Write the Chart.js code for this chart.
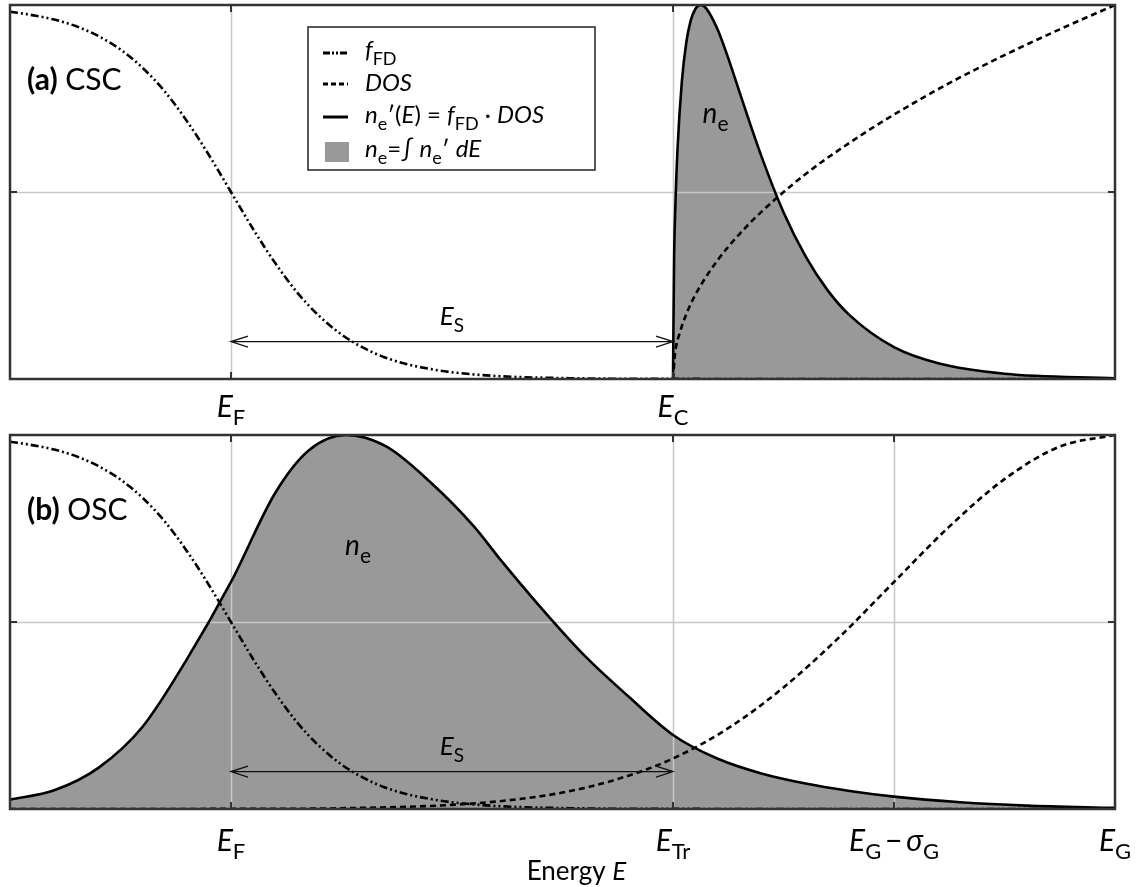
<!DOCTYPE html>
<html>
<head>
<meta charset="utf-8">
<script src="https://cdn.jsdelivr.net/npm/chart.js@4.4.1/dist/chart.umd.min.js"></script>
<style>
  body { margin: 0; background: #fff; }
  canvas { position: absolute; left: 0; }
</style>
</head>
<body>
<canvas id="chart-csc" width="1136" height="430" style="top:0"></canvas>
<canvas id="chart-osc" width="1136" height="457" style="top:430px"></canvas>
<script>
// Fermi-Dirac occupation (same in both panels)
const fdE   = [-1, -0.9, -0.8, -0.7, -0.6, -0.5, -0.4, -0.3, -0.2, -0.1, 0, 0.1, 0.2, 0.3, 0.4, 0.5, 0.6, 0.7, 0.8, 0.9, 1.0, 1.2, 1.5, 2, 3, 4];
const fdVal = [0.982, 0.973, 0.961, 0.943, 0.917, 0.881, 0.832, 0.769, 0.690, 0.599, 0.5, 0.401, 0.310, 0.231, 0.168, 0.119, 0.083, 0.057, 0.039, 0.027, 0.018, 0.008, 0.0025, 0.0003, 0, 0];

// (a) CSC: band-edge DOS and electron density
const dosTopE   = [2, 2.01, 2.03, 2.06, 2.1, 2.2, 2.3, 2.4, 2.6, 2.8, 3.0, 3.25, 3.5, 3.75, 4.0];
const dosTopVal = [0, 0.071, 0.122, 0.173, 0.224, 0.316, 0.387, 0.447, 0.548, 0.632, 0.707, 0.791, 0.866, 0.935, 1.0];
const neTopE    = [2, 2.005, 2.01, 2.02, 2.04, 2.06, 2.08, 2.1, 2.125, 2.15, 2.2, 2.25, 2.3, 2.4, 2.5, 2.6, 2.7, 2.8, 3.0, 3.2, 3.5, 4.0];
const neTopVal  = [0, 0.323, 0.448, 0.609, 0.795, 0.899, 0.958, 0.988, 1.0, 0.991, 0.937, 0.858, 0.769, 0.596, 0.446, 0.328, 0.237, 0.170, 0.085, 0.042, 0.014, 0.002];

// (b) OSC: gaussian DOS and electron density
const dosBotE   = [-1, 0, 0.5, 1, 1.25, 1.5, 1.75, 2, 2.25, 2.5, 2.75, 3, 3.25, 3.5, 3.75, 4];
const dosBotVal = [0, 0.0003, 0.002, 0.011, 0.023, 0.044, 0.080, 0.135, 0.216, 0.325, 0.458, 0.607, 0.755, 0.882, 0.969, 1.0];
const neBotE    = [-1, -0.8, -0.6, -0.4, -0.2, 0, 0.2, 0.35, 0.52, 0.7, 0.9, 1.1, 1.22, 1.4, 1.6, 1.8, 2.0, 2.2, 2.4, 2.6, 2.8, 3.0, 3.3, 3.6, 4.0];
const neBotVal  = [0.025, 0.05, 0.11, 0.22, 0.40, 0.607, 0.845, 0.958, 1.0, 0.97, 0.875, 0.755, 0.666, 0.54, 0.41, 0.30, 0.198, 0.135, 0.095, 0.068, 0.048, 0.033, 0.018, 0.009, 0.003];

// tick positions and labels ([text, style] runs: i italic, s subscript, b bold)
const topTicks  = [0, 2];
const topLabels = [[['E','i'],['F','s']], [['E','i'],['C','s']]];
const botTicks  = [0, 2, 3, 4];
const botLabels = [[['E','i'],['F','s']], [['E','i'],['Tr','s']], [['E','i'],['G','s'],['\u2009\u2212\u2009',''],['\u03c3','i'],['G','s']], [['E','i'],['G','s']]];

const FONT = 'Lato, "Open Sans", sans-serif';
const pts = (xs, ys) => xs.map((x, i) => ({ x: x, y: ys[i] }));

const drawRuns = (ctx, x, y, runs, size, align) => {
    const subSize = Math.round(size * 0.74);
    const fontOf = st => (st.includes('b') ? 'bold ' : '') + (st.includes('i') ? 'italic ' : '') + (st.includes('s') ? subSize : size) + 'px ' + FONT;
    let w = 0;
    const widths = runs.map(([t, st]) => { ctx.font = fontOf(st); const m = ctx.measureText(t).width; w += m; return m; });
    let cx = align === 'center' ? x - w / 2 : x;
    ctx.textAlign = 'left'; ctx.textBaseline = 'alphabetic'; ctx.fillStyle = '#000';
    runs.forEach(([t, st], i) => {
        ctx.font = fontOf(st);
        ctx.fillText(t, cx, y + (st.includes('s') ? size * 0.28 : 0));
        cx += widths[i];
    });
};

const dashLine = (ctx, x1, y1, x2, y2, dash, width) => {
    ctx.save(); ctx.setLineDash(dash); ctx.lineWidth = width; ctx.strokeStyle = '#000';
    ctx.beginPath(); ctx.moveTo(x1, y1); ctx.lineTo(x2, y2); ctx.stroke(); ctx.restore();
};

const FDD = [8, 3, 2, 3, 2, 3];
const DASH = [6, 4];

const panelPlugin = {
    id: 'panel',
    afterDatasetDraw(chart, args, o) {
        if (args.index !== 0) return;   // grid goes over the grey fill, under the curves
        const { ctx, chartArea: a, scales: { x, y } } = chart;
        ctx.save(); ctx.strokeStyle = '#c8c8c8'; ctx.lineWidth = 1.5;
        o.grid.forEach(v => {
            const px = Math.round(x.getPixelForValue(v)) + 0.5;
            ctx.beginPath(); ctx.moveTo(px, a.top); ctx.lineTo(px, a.bottom); ctx.stroke();
        });
        const py = Math.round(y.getPixelForValue(0.5)) + 0.5;
        ctx.beginPath(); ctx.moveTo(a.left, py); ctx.lineTo(a.right, py); ctx.stroke();
        ctx.restore();
    },
    afterDraw(chart, args, o) {
        const { ctx, chartArea: a, scales: { x, y } } = chart;
        ctx.save();
        // frame and inner ticks
        ctx.strokeStyle = '#333'; ctx.lineWidth = 2.5;
        ctx.strokeRect(a.left, a.top, a.right - a.left, a.bottom - a.top);
        ctx.lineWidth = 2;
        o.grid.forEach(v => {
            const px = x.getPixelForValue(v);
            ctx.beginPath(); ctx.moveTo(px, a.top); ctx.lineTo(px, a.top + 7);
            ctx.moveTo(px, a.bottom); ctx.lineTo(px, a.bottom - 7); ctx.stroke();
        });
        const py = y.getPixelForValue(0.5);
        ctx.beginPath(); ctx.moveTo(a.left, py); ctx.lineTo(a.left + 7, py);
        ctx.moveTo(a.right, py); ctx.lineTo(a.right - 7, py); ctx.stroke();

        // tick labels
        o.ticks.forEach((v, i) => drawRuns(ctx, x.getPixelForValue(v), a.bottom + o.tickOffset, o.labels[i], 30, 'center'));
        if (o.title) drawRuns(ctx, (a.left + a.right) / 2 + 14, a.bottom + 71, [['Energy ', ''], ['E', 'i']], 26, 'center');

        // E_S double arrow
        const ay = y.getPixelForValue(0.1), x1 = x.getPixelForValue(0), x2 = x.getPixelForValue(2);
        ctx.strokeStyle = '#111'; ctx.lineWidth = 1.3;
        ctx.beginPath(); ctx.moveTo(x1, ay); ctx.lineTo(x2, ay);
        ctx.moveTo(x1 + 17, ay - 5.5); ctx.lineTo(x1, ay); ctx.lineTo(x1 + 17, ay + 5.5);
        ctx.moveTo(x2 - 17, ay - 5.5); ctx.lineTo(x2, ay); ctx.lineTo(x2 - 17, ay + 5.5);
        ctx.stroke();
        drawRuns(ctx, x.getPixelForValue(1), y.getPixelForValue(0.144), [['E','i'],['S','s']], 26, 'center');

        // n_e inside the filled area
        drawRuns(ctx, x.getPixelForValue(o.neAt[0]), y.getPixelForValue(o.neAt[1]), [['n','i'],['e','s']], 28, 'left');

        // panel tag
        drawRuns(ctx, a.left + 17, a.top + 85, o.tag, 30, 'left');

        // legend box (top panel only)
        if (o.legend) {
            const lx = a.left + 298, ly = a.top + 22, lw = 287, lh = 143;
            ctx.fillStyle = '#fff'; ctx.fillRect(lx, ly, lw, lh);
            ctx.strokeStyle = '#222'; ctx.lineWidth = 1.5; ctx.setLineDash([]);
            ctx.strokeRect(lx, ly, lw, lh);
            const sx = lx + 15, ex = lx + 40, tx = lx + 57;
            dashLine(ctx, sx, ly + 26, ex, ly + 26, [7, 2, 2, 2, 2, 2], 3);
            dashLine(ctx, sx, ly + 57, ex, ly + 57, [5, 3], 3);
            dashLine(ctx, sx, ly + 90, ex, ly + 90, [], 3);
            ctx.fillStyle = '#999'; ctx.fillRect(sx + 2, ly + 115, 24, 20);
            drawRuns(ctx, tx, ly + 31, [['f','i'],['FD','s']], 24, 'left');
            drawRuns(ctx, tx, ly + 64, [['DOS','i']], 24, 'left');
            drawRuns(ctx, tx, ly + 96, [['n','i'],['e','s'],['\u2032(',''],['E','i'],[') = ',''],['f','i'],['FD','s'],[' \u00b7 ',''],['DOS','i']], 24, 'left');
            drawRuns(ctx, tx, ly + 130, [['n','i'],['e','s'],['=\u222b ',''],['n','i'],['e','s'],['\u2032 ',''],['dE','i']], 24, 'left');
        }
        ctx.restore();
    }
};

const makePanel = (id, dosPts, nePts, pad, opts) => {
    new Chart(document.getElementById(id), {
        type: 'line',
        data: {
            datasets: [
                { data: nePts, fill: 'origin', backgroundColor: '#999999', borderWidth: 0, pointRadius: 0, cubicInterpolationMode: 'monotone', order: 10 },
                { data: nePts, fill: false, borderColor: '#000', borderWidth: 2.6, pointRadius: 0, cubicInterpolationMode: 'monotone', order: 3 },
                { data: dosPts, fill: false, borderColor: '#000', borderWidth: 2.6, borderDash: DASH, pointRadius: 0, cubicInterpolationMode: 'monotone', order: 2 },
                { data: pts(fdE, fdVal), fill: false, borderColor: '#000', borderWidth: 2.6, borderDash: FDD, pointRadius: 0, cubicInterpolationMode: 'monotone', order: 1 }
            ]
        },
        options: {
            responsive: false, animation: false, devicePixelRatio: 1,
            layout: { padding: pad },
            scales: {
                x: { type: 'linear', min: -1, max: 4, display: false },
                y: { type: 'linear', min: 0, max: 1, display: false }
            },
            plugins: { legend: { display: false }, tooltip: { enabled: false }, panel: opts }
        },
        plugins: [panelPlugin]
    });
};

makePanel('chart-csc', pts(dosTopE, dosTopVal), pts(neTopE, neTopVal),
    { left: 10, right: 21, top: 5, bottom: 51 },
    { grid: [0, 2], ticks: topTicks, labels: topLabels, tickOffset: 38, title: false,
      neAt: [2.134, 0.684], tag: [['(a)','b'],[' CSC','']], legend: true });

makePanel('chart-osc', pts(dosBotE, dosBotVal), pts(neBotE, neBotVal),
    { left: 10, right: 21, top: 5, bottom: 78 },
    { grid: [0, 2, 3], ticks: botTicks, labels: botLabels, tickOffset: 42, title: true,
      neAt: [0.516, 0.679], tag: [['(b)','b'],[' OSC','']], legend: false });
</script>
</body>
</html>
